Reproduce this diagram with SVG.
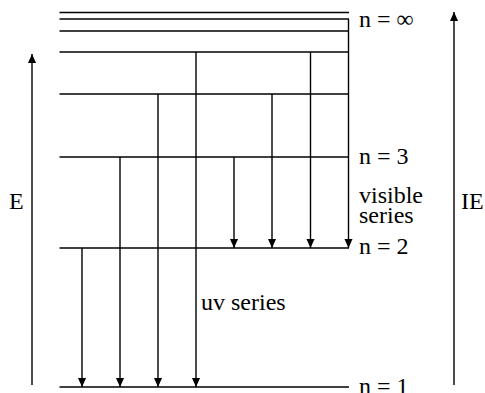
<svg xmlns="http://www.w3.org/2000/svg" width="485" height="393" viewBox="0 0 485 393">
<defs>
<marker id="ah" viewBox="0 0 10 10" refX="10" refY="5" markerWidth="9" markerHeight="9" markerUnits="userSpaceOnUse" orient="auto"><path d="M0,0.5 L10,5 L0,9.5 Z" fill="#000"/></marker>
<style>
.lv{stroke:#000;stroke-width:1.4;fill:none}
.tr{stroke:#000;stroke-width:1.4;fill:none;marker-end:url(#ah)}
text{font-family:"Liberation Serif","Times New Roman",serif;font-size:24px;fill:#000}
</style>
</defs>
<rect width="485" height="393" fill="#fff"/>
<g id="levels" font-family="Liberation Serif, serif">
<g id="level-inf"><line class="lv" x1="59.5" y1="12.5" x2="349" y2="12.5"/><line class="lv" x1="59.5" y1="19" x2="349" y2="19"/><line class="lv" x1="59.5" y1="31" x2="349" y2="31"/><text x="359" y="26.5">n = ∞</text></g>
<g id="level-5"><line class="lv" x1="59.5" y1="52" x2="349" y2="52"/></g>
<g id="level-4"><line class="lv" x1="59.5" y1="94" x2="349" y2="94"/></g>
<g id="level-3"><line class="lv" x1="59.5" y1="157" x2="349" y2="157"/><text x="359" y="164">n = 3</text></g>
<g id="level-2"><line class="lv" x1="59.5" y1="248" x2="349" y2="248"/><text x="359" y="254">n = 2</text></g>
<g id="level-1"><line class="lv" x1="59.5" y1="387" x2="349" y2="387"/><text x="359" y="394">n = 1</text></g>
</g>
<g id="labels" font-family="Liberation Serif, serif">
<g id="visible-label"><text x="359" y="203">visible</text><text x="359" y="223">series</text></g>
<g id="uv-label"><text x="201" y="310">uv series</text></g>
<g id="E-label"><text x="9" y="209">E</text></g>
<g id="IE-label"><text x="461" y="209">IE</text></g>
</g>
<g id="connectors">
<line class="tr" x1="82" y1="248" x2="82" y2="387"/>
<line class="tr" x1="120" y1="157" x2="120" y2="387"/>
<line class="tr" x1="158" y1="94" x2="158" y2="387"/>
<line class="tr" x1="196" y1="52" x2="196" y2="387"/>
<line class="tr" x1="234" y1="157" x2="234" y2="248"/>
<line class="tr" x1="272" y1="94" x2="272" y2="248"/>
<line class="tr" x1="310.5" y1="52" x2="310.5" y2="248"/>
<line class="tr" x1="348.5" y1="19" x2="348.5" y2="248"/>
<line class="tr" x1="32" y1="385" x2="32" y2="54"/>
<line class="tr" x1="454" y1="385" x2="454" y2="12"/>
</g>
</svg>
